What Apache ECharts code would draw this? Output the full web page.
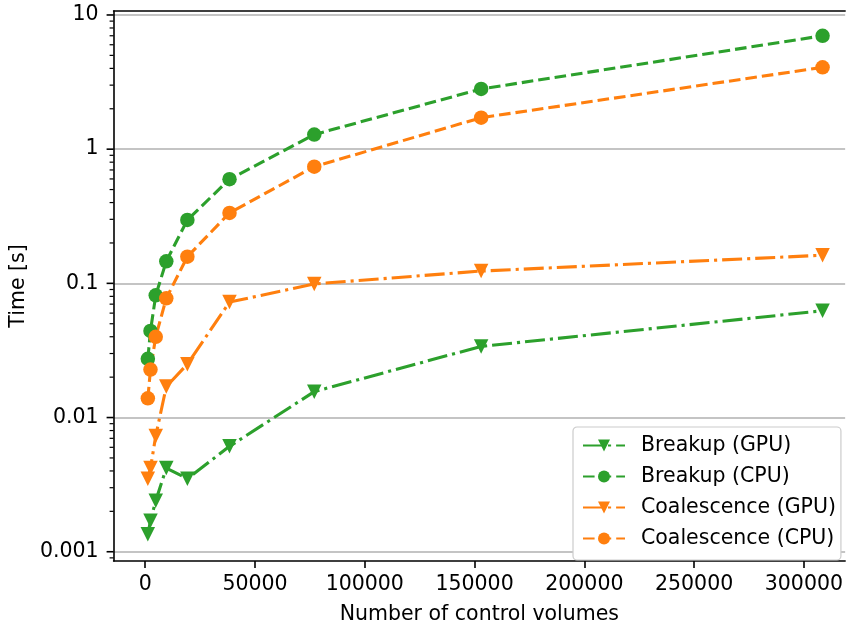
<!DOCTYPE html>
<html>
<head>
<meta charset="utf-8">
<script src="https://cdn.jsdelivr.net/npm/echarts@6/dist/echarts.min.js"></script>
<style>
html,body{margin:0;padding:0;background:#fff;}
#chart{width:846px;height:630px;}
</style>
</head>
<body>
<div id="chart"></div>
<script>
// ---- data ----
const controlVolumes = [1200, 2400, 4800, 9600, 19200, 38400, 77000, 153000, 308500];
const breakupGPU = [0.00135, 0.0017, 0.0024, 0.0042, 0.0035, 0.0061, 0.0156, 0.0339, 0.0625];
const breakupCPU = [0.0274, 0.0442, 0.0815, 0.146, 0.297, 0.597, 1.285, 2.81, 7.0];
const coalescenceGPU = [0.0035, 0.0042, 0.0073, 0.017, 0.025, 0.0725, 0.099, 0.1235, 0.162];
const coalescenceCPU = [0.0139, 0.0228, 0.040, 0.0774, 0.158, 0.335, 0.741, 1.716, 4.07];
const seriesNames = ['Breakup (GPU)', 'Breakup (CPU)', 'Coalescence (GPU)', 'Coalescence (CPU)'];
const yMajorTicks = [0.001, 0.01, 0.1, 1, 10];
const yMinorTicks = [0.0009,
  0.002, 0.003, 0.004, 0.005, 0.006, 0.007, 0.008, 0.009,
  0.02, 0.03, 0.04, 0.05, 0.06, 0.07, 0.08, 0.09,
  0.2, 0.3, 0.4, 0.5, 0.6, 0.7, 0.8, 0.9,
  2, 3, 4, 5, 6, 7, 8, 9];
const xTitle = 'Number of control volumes';
const yTitle = 'Time [s]';

const GREEN = '#2ca02c', ORANGE = '#ff7f0e';
const FONT = 'DejaVu Sans';
const FS = 20.5;
const X_MIN = -14400, X_MAX = 318780;
const Y_MIN = 0.000853, Y_MAX = 10.706;

const zip = (xs, ys) => xs.map((x, i) => [x, ys[i]]);
const dashDot = [20, 5, 3.1, 5];
const dashed = [11.6, 5];

function lineSeries(name, data, color, dash, symbol) {
  return {
    name, type: 'line', data: zip(controlVolumes, data),
    symbol: symbol, symbolSize: symbol === 'circle' ? 14.5 : [14.5, 14.5],
    symbolRotate: symbol === 'triangle' ? 180 : 0,
    itemStyle: { color: color },
    lineStyle: { color: color, width: 3.1, type: dash },
    emphasis: { disabled: true },
    z: 3, animation: false
  };
}

function tickSeries(values, len, lw) {
  return {
    type: 'custom', silent: true, clip: false, animation: false, z: 5,
    data: values.map(v => [X_MIN, v]),
    renderItem: function (params, api) {
      const p = api.coord([api.value(0), api.value(1)]);
      return { type: 'line', shape: { x1: p[0] - len, y1: p[1], x2: p[0], y2: p[1] },
               style: { stroke: '#000', lineWidth: lw } };
    }
  };
}

const chart = echarts.init(document.getElementById('chart'), null, { renderer: 'canvas' });
chart.setOption({
  animation: false,
  backgroundColor: '#fff',
  grid: { left: 113, right: 0, top: 11, bottom: 65, containLabel: false },
  legend: {
    data: seriesNames, orient: 'vertical', left: 573, top: 427,
    itemWidth: 42, itemHeight: 15, itemGap: 10,
    padding: [8, 5, 11, 9],
    backgroundColor: '#fff', borderColor: '#cccccc', borderWidth: 1.2, borderRadius: 4,
    textStyle: { fontFamily: FONT, fontSize: FS, lineHeight: 20, color: '#000', padding: [0, 0, 0, 11] },
    selectedMode: false
  },
  xAxis: [{
    type: 'value', min: X_MIN, max: X_MAX,
    name: xTitle, nameLocation: 'middle', nameGap: 43,
    nameTextStyle: { fontFamily: FONT, fontSize: FS, color: '#000' },
    axisLine: { show: true, onZero: false, lineStyle: { color: '#000', width: 1.6 } },
    axisTick: { show: true, length: 7, lineStyle: { color: '#000', width: 1.6 } },
    axisLabel: { fontFamily: FONT, fontSize: FS, color: '#000', margin: 13,
                 showMinLabel: false, showMaxLabel: false,
                 formatter: v => String(v) },
    splitLine: { show: false }
  }, {
    type: 'value', position: 'top', min: X_MIN, max: X_MAX,
    axisLine: { show: true, lineStyle: { color: '#000', width: 1.6 } },
    axisTick: { show: false }, axisLabel: { show: false }, splitLine: { show: false }
  }],
  yAxis: {
    type: 'log', logBase: 10, min: Y_MIN, max: Y_MAX,
    name: yTitle, nameLocation: 'middle', nameGap: 80,
    nameTextStyle: { fontFamily: FONT, fontSize: FS, color: '#000' },
    axisLine: { show: true, onZero: false, lineStyle: { color: '#000', width: 1.6 } },
    axisTick: { show: false },
    axisLabel: { fontFamily: FONT, fontSize: FS, color: '#000', margin: 15,
                 showMinLabel: false, showMaxLabel: false,
                 formatter: v => {
                   const m = yMajorTicks.find(t => Math.abs(Math.log10(t) - Math.log10(v)) < 1e-6);
                   return m === undefined ? '' : String(m);
                 } },
    splitLine: { show: true, showMinLine: false, showMaxLine: false,
                 lineStyle: { color: '#b0b0b0', width: 1.6 } }
  },
  series: [
    lineSeries(seriesNames[0], breakupGPU, GREEN, dashDot, 'triangle'),
    lineSeries(seriesNames[1], breakupCPU, GREEN, dashed, 'circle'),
    lineSeries(seriesNames[2], coalescenceGPU, ORANGE, dashDot, 'triangle'),
    lineSeries(seriesNames[3], coalescenceCPU, ORANGE, dashed, 'circle'),
    tickSeries(yMajorTicks, 7, 1.6),
    tickSeries(yMinorTicks, 4, 1.2)
  ]
});
</script>
</body>
</html>
